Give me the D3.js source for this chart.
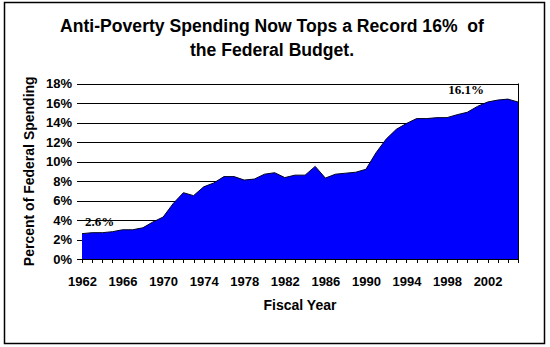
<!DOCTYPE html>
<html>
<head>
<meta charset="utf-8">
<script src="https://cdn.jsdelivr.net/npm/d3@7/dist/d3.min.js"></script>
<style>
  html, body { margin: 0; padding: 0; background: #fff; }
  svg { display: block; }
  .axis text { font-family: "Liberation Sans", Arial, sans-serif; font-size: 13px; font-weight: bold; fill: #000; }
  .axis line, .axis path { stroke: #000; shape-rendering: crispEdges; }
</style>
</head>
<body>
<svg id="chart" width="550" height="347"></svg>
<script>
// Anti-poverty spending as a share of federal outlays, fiscal years 1962-2005
const years = d3.range(1962, 2006);
const shares = [
  2.6, 2.7, 2.7, 2.8, 3.0, 3.0, 3.2, 3.8, 4.3, 5.7,
  6.8, 6.5, 7.4, 7.8, 8.45, 8.45, 8.1, 8.2, 8.7, 8.85,
  8.35, 8.6, 8.6, 9.5, 8.3, 8.7, 8.8, 8.9, 9.2, 10.9,
  12.3, 13.3, 13.9, 14.4, 14.4, 14.5, 14.5, 14.8, 15.05, 15.65,
  16.1, 16.3, 16.4, 16.1
];
const yTicks = [0, 2, 4, 6, 8, 10, 12, 14, 16, 18];
const yearLabels = [1962, 1966, 1970, 1974, 1978, 1982, 1986, 1990, 1994, 1998, 2002];
const titleLines = ["Anti-Poverty Spending Now Tops a Record 16%  of", "the Federal Budget."];
const callouts = [
  { year: 1962, value: 2.6, text: "2.6%" },
  { year: 2005, value: 16.1, text: "16.1%" }
];

const data = years.map((yr, i) => ({ year: yr, value: shares[i] }));

const svg = d3.select("#chart");
const plotLeft = 82, plotRight = 518, plotTop = 83.5, plotBottom = 259;

const x = d3.scaleLinear().domain([1962, 2005]).range([plotLeft, plotRight]);
const y = d3.scaleLinear().domain([0, 18]).range([plotBottom, plotTop]);

// outer frame
svg.append("rect")
  .attr("x", 4.5).attr("y", 2.5)
  .attr("width", 540).attr("height", 341)
  .attr("fill", "none").attr("stroke", "#000").attr("stroke-width", 1.5);

// title
svg.append("text")
  .attr("x", 272).attr("y", 32)
  .attr("text-anchor", "middle")
  .style("font-family", "'Liberation Sans', Arial, sans-serif")
  .style("font-size", "17.6px").style("font-weight", "bold")
  .style("white-space", "pre")
  .selectAll("tspan").data(titleLines).join("tspan")
  .attr("x", 272).attr("dy", (d, i) => i === 0 ? 0 : 24)
  .text(d => d);

// y axis with gridlines; its domain line forms the right border of the plot
svg.append("g").attr("class", "axis")
  .attr("transform", `translate(${plotRight},0)`)
  .call(d3.axisLeft(y).tickValues(yTicks).tickSizeInner(plotRight - 77).tickSizeOuter(0)
    .tickPadding(5).tickFormat(d => d + "%"));

// area
const area = d3.area().x(d => x(d.year)).y0(y(0)).y1(d => y(d.value));
const line = d3.line().x(d => x(d.year)).y(d => y(d.value));
svg.append("path").datum(data).attr("d", area).attr("fill", "#0000ff");
svg.append("path").datum(data).attr("d", line)
  .attr("fill", "none").attr("stroke", "#000022").attr("stroke-width", 1);

// x axis
svg.append("g").attr("class", "axis")
  .attr("transform", `translate(0,${plotBottom})`)
  .call(d3.axisBottom(x).tickValues(years).tickSizeInner(4).tickSizeOuter(0)
    .tickPadding(14).tickFormat(d => yearLabels.includes(d) ? String(d) : ""));

// right border drawn over the area
svg.append("line")
  .attr("x1", plotRight + 0.5).attr("x2", plotRight + 0.5)
  .attr("y1", y(18)).attr("y2", y(0))
  .attr("stroke", "#000");

// axis titles
svg.append("text")
  .attr("transform", `translate(34,${(plotTop + plotBottom) / 2}) rotate(-90)`)
  .attr("text-anchor", "middle")
  .style("font-family", "'Liberation Sans', Arial, sans-serif")
  .style("font-size", "14px").style("font-weight", "bold")
  .text("Percent of Federal Spending");

svg.append("text")
  .attr("x", (plotLeft + plotRight) / 2).attr("y", 310)
  .attr("text-anchor", "middle")
  .style("font-family", "'Liberation Sans', Arial, sans-serif")
  .style("font-size", "14px").style("font-weight", "bold")
  .text("Fiscal Year");

// value callouts
svg.selectAll("text.callout").data(callouts).join("text")
  .attr("class", "callout")
  .attr("x", d => d.year === 1962 ? x(d.year) + 3 : x(d.year) - 34)
  .attr("y", d => y(d.value) - 8)
  .attr("text-anchor", d => d.year === 1962 ? "start" : "end")
  .style("font-family", "'Liberation Serif', 'Times New Roman', serif")
  .style("font-size", "13px")
  .style("font-weight", "bold")
  .text(d => d.text);
</script>
</body>
</html>
